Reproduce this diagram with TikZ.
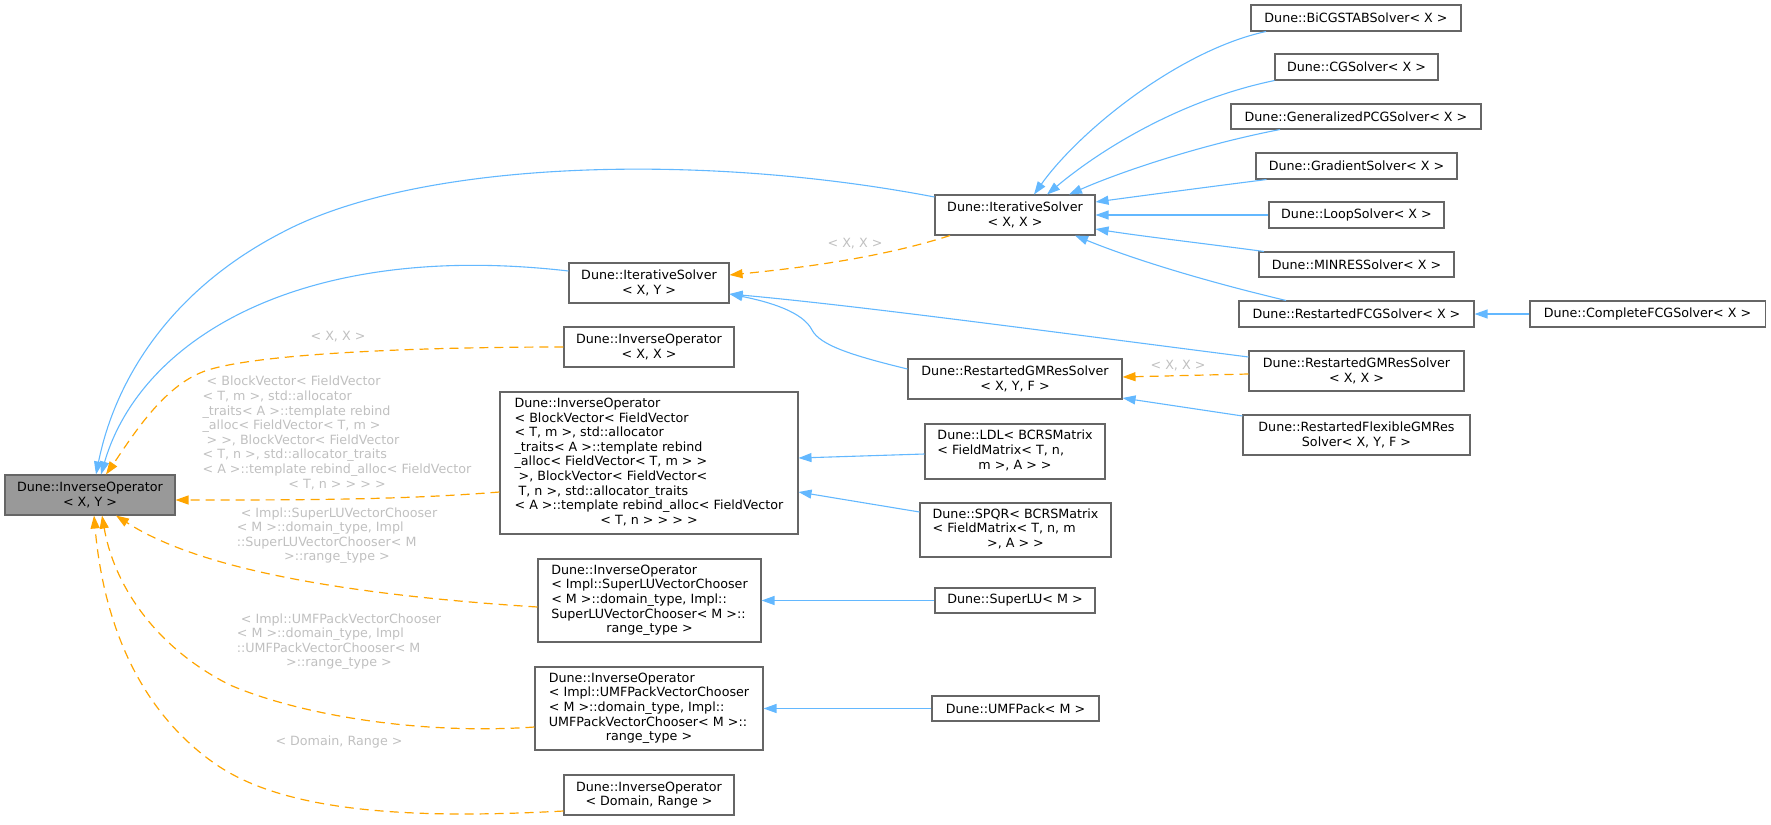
\documentclass[tikz,border=0pt]{standalone}
\usepackage{fontspec}
\setmainfont{DejaVu Sans}
\usetikzlibrary{arrows.meta}
\definecolor{edgeblue}{HTML}{63B8FF}
\definecolor{edgeorange}{HTML}{FFA500}
\definecolor{nodeborder}{HTML}{666666}
\definecolor{rootfill}{HTML}{999999}
\definecolor{labelgray}{HTML}{C0C0C0}
\newcommand{\dfont}{\fontsize{12.7}{14.6}\selectfont}
\newcommand{\lastc}[1]{\multicolumn{1}{@{}c@{}}{#1}}
\begin{document}
\begin{tikzpicture}[x=1pt,y=-1pt,
  cls/.style={draw=nodeborder, line width=1.05pt, fill=white, inner sep=0pt, font=\dfont, align=center},
  inh/.style={draw=edgeblue, line width=1.1pt, -{Triangle[length=13pt,width=9pt]}},
  tmpl/.style={draw=edgeorange, line width=1.2pt, dash pattern=on 9pt off 6pt, -{Triangle[length=13pt,width=9pt]}},
  lbl/.style={text=labelgray, font=\dfont, inner sep=0pt, align=center}]
\useasboundingbox (0,0) rectangle (1771,824);

% nodes
\node[cls, fill=rootfill, minimum width=170pt, minimum height=40pt] (root) at (90,495) {Dune::InverseOperator\\< X, Y >};
\node[cls, minimum width=160pt, minimum height=40pt] (ixy) at (649,283) {Dune::IterativeSolver\\< X, Y >};
\node[cls, minimum width=170pt, minimum height=40pt] (ioxx) at (649,347) {Dune::InverseOperator\\< X, X >};
\node[cls, minimum width=298pt, minimum height=142pt] (iob) at (649,463) {\begin{tabular}{@{}l@{}}Dune::InverseOperator\\< BlockVector< FieldVector\\< T, m >, std::allocator\\\_traits< A >::template rebind\\\_alloc< FieldVector< T, m > >\\\ >, BlockVector< FieldVector<\\\ T, n >, std::allocator\_traits\\< A >::template rebind\_alloc< FieldVector\\\lastc{< T, n > > > >}\end{tabular}};
\node[cls, minimum width=223pt, minimum height=83pt] (ios) at (649.5,600.5) {\begin{tabular}{@{}l@{}}Dune::InverseOperator\\< Impl::SuperLUVectorChooser\\< M >::domain\_type, Impl::\\SuperLUVectorChooser< M >::\\\lastc{range\_type >}\end{tabular}};
\node[cls, minimum width=228pt, minimum height=83pt] (iou) at (649,708.5) {\begin{tabular}{@{}l@{}}Dune::InverseOperator\\< Impl::UMFPackVectorChooser\\< M >::domain\_type, Impl::\\UMFPackVectorChooser< M >::\\\lastc{range\_type >}\end{tabular}};
\node[cls, minimum width=170pt, minimum height=40pt] (iodr) at (649,795) {Dune::InverseOperator\\< Domain, Range >};
\node[cls, minimum width=160pt, minimum height=40pt] (ixx) at (1015,215) {Dune::IterativeSolver\\< X, X >};
\node[cls, minimum width=214pt, minimum height=40pt] (rgyf) at (1015,379) {Dune::RestartedGMResSolver\\< X, Y, F >};
\node[cls, minimum width=180pt, minimum height=55pt] (ldl) at (1015,451.5) {\begin{tabular}{@{}l@{}}Dune::LDL< BCRSMatrix\\< FieldMatrix< T, n,\\\lastc{m >, A > >}\end{tabular}};
\node[cls, minimum width=191pt, minimum height=54pt] (spqr) at (1015.5,530) {\begin{tabular}{@{}l@{}}Dune::SPQR< BCRSMatrix\\< FieldMatrix< T, n, m\\\lastc{>, A > >}\end{tabular}};
\node[cls, minimum width=160pt, minimum height=25pt] (slu) at (1015,600.5) {Dune::SuperLU< M >};
\node[cls, minimum width=167pt, minimum height=25pt] (umf) at (1015.5,708.5) {Dune::UMFPack< M >};
\node[cls, minimum width=210pt, minimum height=26pt] (bicg) at (1356,18) {Dune::BiCGSTABSolver< X >};
\node[cls, minimum width=163pt, minimum height=26pt] (cg) at (1356.5,67) {Dune::CGSolver< X >};
\node[cls, minimum width=250pt, minimum height=25pt] (gpcg) at (1356,116.5) {Dune::GeneralizedPCGSolver< X >};
\node[cls, minimum width=201pt, minimum height=26pt] (grad) at (1356.5,166) {Dune::GradientSolver< X >};
\node[cls, minimum width=175pt, minimum height=26pt] (loop) at (1356.5,215) {Dune::LoopSolver< X >};
\node[cls, minimum width=195pt, minimum height=25pt] (minres) at (1356.5,264.5) {Dune::MINRESSolver< X >};
\node[cls, minimum width=235pt, minimum height=26pt] (rfcg) at (1356.5,314) {Dune::RestartedFCGSolver< X >};
\node[cls, minimum width=215pt, minimum height=40pt] (rgxx) at (1356.5,371) {Dune::RestartedGMResSolver\\< X, X >};
\node[cls, minimum width=227pt, minimum height=40pt] (rflex) at (1356.5,435) {Dune::RestartedFlexibleGMRes\\Solver< X, Y, F >};
\node[cls, minimum width=235pt, minimum height=26pt] (cfcg) at (1647.5,314) {Dune::CompleteFCGSolver< X >};

% labels
\node[lbl] (l1) at (338,337) {< X, X >};
\node[lbl] (l2) at (337,434) {\begin{tabular}{@{}l@{}}\ < BlockVector< FieldVector\\< T, m >, std::allocator\\\_traits< A >::template rebind\\\_alloc< FieldVector< T, m >\\\ > >, BlockVector< FieldVector\\< T, n >, std::allocator\_traits\\< A >::template rebind\_alloc< FieldVector\\\lastc{< T, n > > > >}\end{tabular}};
\node[lbl] (l3) at (337,536) {\begin{tabular}{@{}l@{}}\ < Impl::SuperLUVectorChooser\\< M >::domain\_type, Impl\\::SuperLUVectorChooser< M\\\lastc{>::range\_type >}\end{tabular}};
\node[lbl] (l4) at (339,642) {\begin{tabular}{@{}l@{}}\ < Impl::UMFPackVectorChooser\\< M >::domain\_type, Impl\\::UMFPackVectorChooser< M\\\lastc{>::range\_type >}\end{tabular}};
\node[lbl] (l5) at (339,742) {< Domain, Range >};
\node[lbl] (l6) at (855,244) {< X, X >};
\node[lbl] (l7) at (1178,366) {< X, X >};

% inheritance edges (blue)
\draw[inh] ([yshift=18pt]ixx.west) .. controls (700,152) and (420,160) .. (283,232) .. controls (170,290) and (115,380) .. ([xshift=6pt]root.north);
\draw[inh] ([yshift=12pt]ixy.west) .. controls (300,240) and (140,340) .. ([xshift=11pt]root.north);
\draw[inh] ([xshift=-90pt]bicg.south) .. controls (1180,50) and (1080,130) .. ([xshift=19pt]ixx.north);
\draw[inh] (cg.south west) .. controls (1180,100) and (1100,150) .. ([xshift=32pt]ixx.north);
\draw[inh] ([xshift=-76pt]gpcg.south) .. controls (1200,145) and (1120,172) .. ([xshift=54pt]ixx.north);
\draw[inh] ([xshift=-90pt]grad.south) .. controls (1200,188) and (1140,196) .. ([yshift=13pt]ixx.east);
\draw[inh] (loop.west) -- (ixx.east);
\draw[inh] ([xshift=-92.5pt]minres.north) .. controls (1200,243) and (1140,236) .. ([yshift=-14pt]ixx.east);
\draw[inh] ([xshift=-70.5pt]rfcg.north) .. controls (1200,280) and (1130,258) .. ([xshift=60pt]ixx.south);
\draw[inh] (cfcg.west) -- (rfcg.east);
\draw[inh] ([yshift=14pt]rgxx.west) .. controls (1000,325) and (850,305) .. ([yshift=-11pt]ixy.east);
\draw[inh] ([yshift=10pt]rgyf.west) .. controls (850,355) and (820,345) .. (812,330) .. controls (803,312) and (770,302) .. ([yshift=-11pt]ixy.east);
\draw[inh] ([yshift=19pt]rflex.west) -- ([yshift=-19pt]rgyf.east);
\draw[inh] ([yshift=-2.5pt]ldl.west) -- ([yshift=5pt]iob.east);
\draw[inh] ([yshift=18pt]spqr.west) -- ([yshift=-29pt]iob.east);
\draw[inh] (slu.west) -- (ios.east);
\draw[inh] (umf.west) -- (iou.east);

% template edges (orange dashed)
\draw[tmpl] ([xshift=-65pt]ixx.south) .. controls (880,258) and (800,268) .. ([yshift=8pt]ixy.east);
\draw[tmpl] ([yshift=-3pt]rgxx.west) -- ([yshift=2pt]rgyf.east);
\draw[tmpl] (ioxx.west) .. controls (400,347) and (240,355) .. (200,373) .. controls (160,390) and (130,440) .. ([xshift=16pt]root.north);
\draw[tmpl] ([yshift=-29pt]iob.west) .. controls (400,500) and (300,500) .. ([yshift=-5pt]root.east);
\draw[tmpl] ([yshift=-6.5pt]ios.west) .. controls (350,595) and (200,570) .. ([xshift=26pt]root.south);
\draw[tmpl] ([yshift=-18.5pt]iou.west) .. controls (420,735) and (300,715) .. (230,685) .. controls (160,650) and (115,590) .. ([xshift=12pt]root.south);
\draw[tmpl] ([yshift=-16pt]iodr.west) .. controls (400,820) and (280,810) .. (214,763) .. controls (150,718) and (105,640) .. ([xshift=4pt]root.south);
\end{tikzpicture}
\end{document}
